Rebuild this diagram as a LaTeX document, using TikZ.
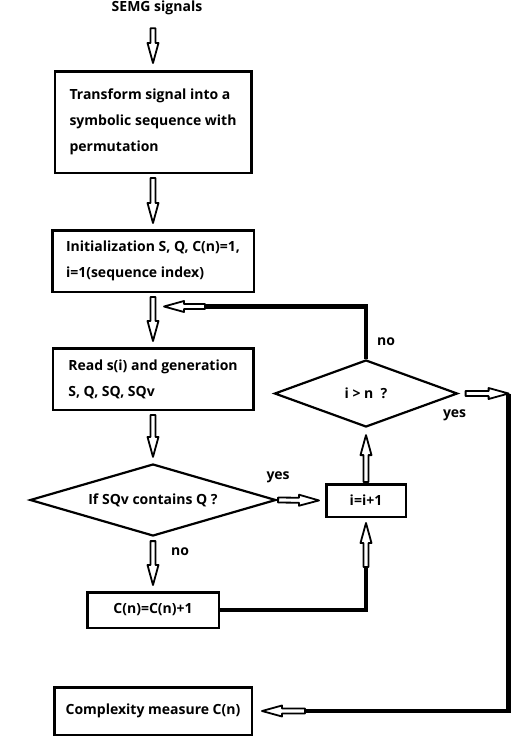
\documentclass[tikz,border=0pt]{standalone}
\usepackage{fontspec}
\setmainfont{Open Sans}
\usetikzlibrary{arrows.meta,calc,positioning,shapes.geometric}
\newcommand{\XMain}{153}
\newcommand{\XLoop}{366}
\newcommand{\GapS}{4pt}
\newcommand{\GapE}{6pt}

\begin{document}
\begin{tikzpicture}[
  x=1pt, y=-1pt,
  txt/.style={font=\bfseries\fontsize{14}{26}\selectfont},
  box/.style={draw=black,line width=2.5pt,txt,align=left,inner sep=0pt},
  decision/.style={diamond,draw=black,line width=2.2pt,txt,inner sep=0pt},
  gaps/.code 2 args={\renewcommand{\GapS}{#1}\renewcommand{\GapE}{#2}},
  hollow/.style={draw=black,line width=1.8pt,line join=round,
    to path={let \p1=($(\tikztostart)!\GapS!(\tikztotarget)$),
                 \p2=($(\tikztotarget)!\GapE!(\tikztostart)$),
                 \p3=($(\p2)!20pt!(\p1)$) in
      ($(\p1)!2.5pt!90:(\p2)$) -- ($(\p3)!2.5pt!-90:(\p1)$) -- ($(\p3)!5.5pt!-90:(\p1)$)
      -- (\p2) -- ($(\p3)!5.5pt!90:(\p1)$) -- ($(\p3)!2.5pt!90:(\p1)$)
      -- ($(\p1)!2.5pt!-90:(\p2)$) -- cycle}},
  loopline/.style={line width=4.5pt},
  lbl/.style={txt}
]
\useasboundingbox (0,0) rectangle (525,737);

% Main column
\node[txt,inner sep=0pt] (src) at (157,8) {SEMG signals};
\node[box,minimum width=196.5pt,minimum height=101.5pt] (trans) at (\XMain,122)
  {Transform signal into a\\symbolic sequence with\\permutation};
\node[box,minimum width=201.5pt,minimum height=61.5pt] (init) at (\XMain,261)
  {Initialization S, Q, C(n)=1,\\i=1(sequence index)};
\node[box,minimum width=200.5pt,minimum height=61.5pt] (read) at (\XMain,379)
  {Read s(i) and generation\\S, Q, SQ, SQv};
\node[decision,aspect=3.3,minimum width=246pt,minimum height=72pt] (cond) at (\XMain,500)
  {If SQv contains Q ?};
\node[box,align=center,minimum width=131.5pt,minimum height=35.5pt] (cinc) at (\XMain,610)
  {C(n)=C(n)+1};
\node[box,align=center,minimum width=197.5pt,minimum height=47.5pt] (out) at (\XMain,711)
  {Complexity measure C(n)};

% Loop column
\node[decision,aspect=2.7,minimum width=183pt,minimum height=67pt] (test) at (\XLoop,393.5)
  {i > n \ ?};
\node[box,align=center,minimum width=79.5pt,minimum height=32.5pt] (inc) at (\XLoop,500.5)
  {i=i+1};

% Helper points for the loops
\coordinate (merge) at ($(init.south)!0.25!(read.north)$);
\coordinate (fbA) at ($(merge)+(52,0)$);
\coordinate (cA) at ($(inc.south)+(0,49)$);
\coordinate (rA) at ($(test.east)+(50,0)$);
\coordinate (rB) at ($(out.east)+(52,0)$);

% Straight flow
\draw[gaps={13pt}{7pt},hollow] (src.south -| trans.north) to (trans.north);
\draw[hollow] (trans.south) to (init.north);
\draw[hollow] (init.south) to (read.north);
\draw[hollow] (read.south) to (cond.north);
\draw[hollow] (cond.south) to (cinc.north);
\draw[gaps={1pt}{6pt},hollow] (cond.east) to (inc.west);
\draw[gaps={1pt}{7pt},hollow] (inc.north) to (test.south);

% Counter back to i=i+1
\draw[loopline] (cinc.east) -| (cA);
\draw[gaps={0pt}{5pt},hollow] (cA) to (inc.south);

% i > n ? no: back to reading
\draw[loopline] (test.north) |- (fbA);
\draw[gaps={0pt}{11pt},hollow] (fbA) to (merge);

% i > n ? yes: result
\draw[gaps={7pt}{0pt},hollow] (test.east) to (rA);
\draw[loopline] (rA) |- (rB);
\draw[gaps={0pt}{9pt},hollow] (rB) to (out.east);

% Branch labels
\node[lbl] at ($(cond.east)+(1,-23)$) {yes};
\node[lbl] at ($(cond.south)+(27,15)$) {no};
\node[lbl] at ($(test.north)+(20,-17)$) {no};
\node[lbl] at ($(test.east)+(-4,22)$) {yes};

\end{tikzpicture}
\end{document}
